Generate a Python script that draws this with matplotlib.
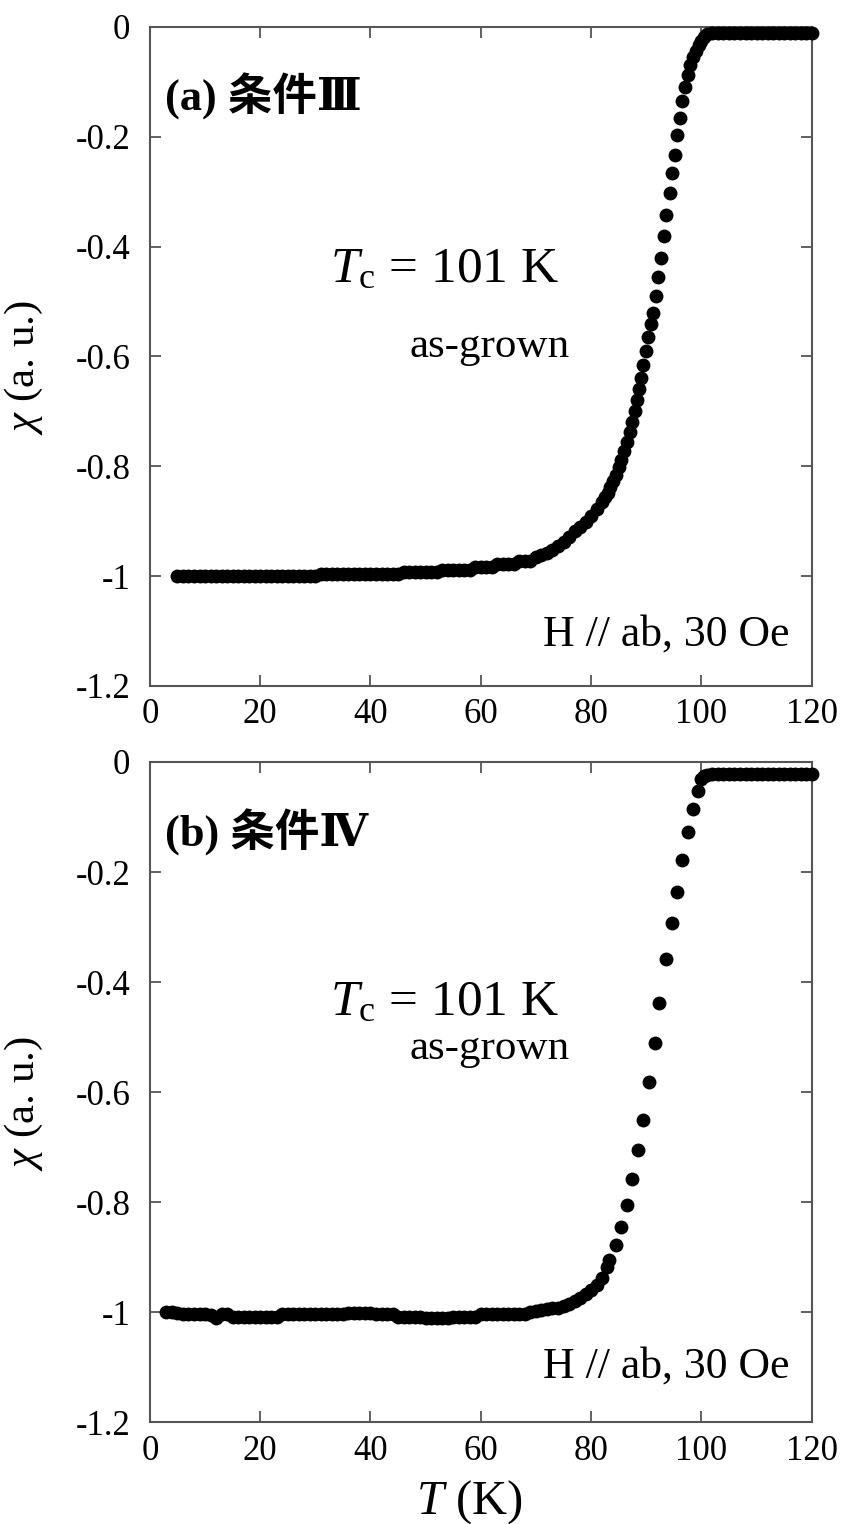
import matplotlib
matplotlib.use("Agg")
import matplotlib.pyplot as plt

plt.rcParams['font.family'] = ['Liberation Serif', 'DejaVu Serif']
plt.rcParams['mathtext.fontset'] = 'custom'
plt.rcParams['mathtext.rm'] = 'Liberation Serif'
plt.rcParams['mathtext.it'] = 'Liberation Serif:italic'
plt.rcParams['mathtext.bf'] = 'Liberation Serif:bold'

# ---------------- data: panel (a) 条件Ⅲ ----------------
T_a = [5, 6, 7, 8, 9, 10, 11, 12, 13, 14, 15, 16, 17, 18, 19, 20, 21, 22, 23, 24,
       25, 26, 27, 28, 29, 30, 31, 32, 33, 34, 35, 36, 37, 38, 39, 40, 41, 42, 43,
       44, 45, 46, 47, 48, 49, 50, 51, 52, 53, 54, 55, 56, 57, 58, 59, 60, 61, 62,
       63, 64, 65, 66, 67, 68, 69, 70, 71, 72, 73, 74, 75, 76, 77, 78, 79, 80, 81,
       82, 82.5, 83, 83.5, 84, 84.5, 85, 85.5, 86, 86.5, 87, 87.5, 88, 88.3, 88.6,
       89, 89.4, 89.9, 90.3, 90.8, 91.2, 91.7, 92.2, 92.6, 93.2, 93.5, 94.3, 94.6,
       95.2, 95.5, 96.2, 96.5, 97.0, 97.5, 98.0, 98.5, 99.0, 99.5, 100, 100.5, 101,
       102, 103, 104, 105, 106, 107, 108, 109, 110, 111, 112, 113, 114, 115, 116,
       117, 118, 119, 120]
chi_a = [-1.000, -1.000, -1.000, -1.000, -1.000, -1.000, -1.000, -1.000, -1.000,
         -1.000, -1.000, -1.000, -1.000, -1.000, -1.000, -1.000, -1.000, -1.000,
         -1.000, -1.000, -1.000, -1.000, -1.000, -1.000, -1.000, -1.000,
         -0.996, -0.996, -0.996, -0.996, -0.996, -0.996, -0.996, -0.996, -0.996,
         -0.996, -0.996, -0.996, -0.996, -0.996, -0.996,
         -0.992, -0.992, -0.992, -0.992, -0.992, -0.992, -0.992,
         -0.988, -0.988, -0.988, -0.988, -0.988, -0.988,
         -0.983, -0.983, -0.983, -0.983,
         -0.978, -0.978, -0.978, -0.978,
         -0.972, -0.972, -0.972,
         -0.966, -0.962, -0.957, -0.952, -0.946,
         -0.938, -0.928, -0.918, -0.910, -0.902, -0.890, -0.878, -0.865, -0.856,
         -0.848, -0.838, -0.826, -0.815, -0.802, -0.788, -0.772, -0.756, -0.738,
         -0.720, -0.700, -0.680, -0.660, -0.640, -0.615, -0.590, -0.565, -0.540,
         -0.520, -0.490, -0.456, -0.420, -0.381, -0.342, -0.303, -0.266, -0.233,
         -0.197, -0.166, -0.135, -0.109, -0.087, -0.070, -0.055, -0.043, -0.033,
         -0.025, -0.018, -0.013,
         -0.011, -0.011, -0.011, -0.011, -0.011, -0.011, -0.011, -0.011, -0.011,
         -0.011, -0.011, -0.011, -0.011, -0.011, -0.011, -0.011, -0.011, -0.011,
         -0.011]

# ---------------- data: panel (b) 条件Ⅳ ----------------
T_b = [3, 4, 5, 6, 7, 8, 9, 10, 11, 12, 13, 14, 15, 16, 17, 18, 19, 20, 21, 22, 23,
       24, 25, 26, 27, 28, 29, 30, 31, 32, 33, 34, 35, 36, 37, 38, 39, 40, 41, 42,
       43, 44, 45, 46, 47, 48, 49, 50, 51, 52, 53, 54, 55, 56, 57, 58, 59, 60, 61,
       62, 63, 64, 65, 66, 67, 68, 69, 70, 71, 72, 73, 74, 75, 76, 77, 78, 79, 80,
       81, 82, 82.8, 83.3, 84.6, 85.5, 86.5, 87.5, 88.5, 89.5, 90.5, 91.5, 92.4,
       93.5, 94.6, 95.5, 96.5, 97.5, 98.5, 99.4, 100.0, 100.5, 101, 102, 103, 104,
       105, 106, 107, 108, 109, 110, 111, 112, 113, 114, 115, 116, 117, 118, 119, 120]
chi_b = [-1.000, -1.000, -1.001, -1.003, -1.003, -1.003, -1.003, -1.003, -1.005,
         -1.010, -1.003, -1.003,
         -1.009, -1.009, -1.009, -1.009, -1.009, -1.009, -1.009, -1.009, -1.009,
         -1.003, -1.003, -1.003, -1.003, -1.003, -1.003, -1.003, -1.003, -1.003,
         -1.003, -1.003, -1.003,
         -1.001, -1.001, -1.001, -1.001, -1.001,
         -1.003, -1.003, -1.003, -1.003,
         -1.009, -1.009, -1.009, -1.009, -1.009,
         -1.011, -1.011, -1.011, -1.011, -1.011,
         -1.009, -1.009, -1.009, -1.009, -1.009,
         -1.003, -1.003, -1.003, -1.003, -1.003, -1.003, -1.003, -1.003, -1.003,
         -1.000, -0.998, -0.996, -0.994, -0.993, -0.992, -0.989, -0.986, -0.980,
         -0.975, -0.968, -0.960, -0.950, -0.938, -0.919, -0.906, -0.878, -0.845,
         -0.805, -0.758, -0.705, -0.651, -0.582, -0.511, -0.438, -0.358, -0.292,
         -0.236, -0.178, -0.128, -0.086, -0.052, -0.030, -0.025, -0.023,
         -0.022, -0.022, -0.022, -0.022, -0.022, -0.022, -0.022, -0.022, -0.022,
         -0.022, -0.022, -0.022, -0.022, -0.022, -0.022, -0.022, -0.022, -0.022,
         -0.022]

x_ticks = [0, 20, 40, 60, 80, 100, 120]
y_ticks = [0, -0.2, -0.4, -0.6, -0.8, -1.0, -1.2]
y_tick_labels = ['0', '-0.2', '-0.4', '-0.6', '-0.8', '-1', '-1.2']

panel_labels = ['(a) 条件Ⅲ', '(b) 条件Ⅳ']
tc_text = r'$T_\mathrm{c}$ = 101 K'
sample_text = 'as-grown'
field_text = 'H // ab, 30 Oe'

fig = plt.figure(figsize=(8.42, 15.24), dpi=100)
ax_a = fig.add_axes([0.178, 0.5499, 0.786, 0.4324])
ax_b = fig.add_axes([0.178, 0.0669, 0.786, 0.4331])

spine_color = '#555555'
label_family = ['Liberation Serif', 'DejaVu Serif', 'Noto Sans CJK JP', 'DejaVu Sans']

configs = [
    (ax_a, T_a, chi_a, panel_labels[0], -0.443, -0.582, -1.107),
    (ax_b, T_b, chi_b, panel_labels[1], -0.438, -0.522, -1.100),
]

for ax, T, chi, plabel, y_tc, y_as, y_h in configs:
    ax.plot(T, chi, 'o', color='black', markersize=10, markeredgewidth=0,
            clip_on=False, zorder=3)
    ax.set_xlim(0, 120)
    ax.set_ylim(-1.2, 0)
    ax.set_xticks(x_ticks)
    ax.set_xticklabels([str(t) for t in x_ticks])
    ax.set_yticks(y_ticks)
    ax.set_yticklabels(y_tick_labels)
    ax.tick_params(direction='in', top=True, right=True, length=8, width=1.3,
                   color=spine_color, labelsize=25)
    ax.tick_params(axis='x', pad=9)
    ax.tick_params(axis='y', pad=14)
    for s in ax.spines.values():
        s.set_color(spine_color)
        s.set_linewidth(1.5)
    ax.set_ylabel(r'$\chi$ (a. u.)', fontsize=31)
    ax.yaxis.set_label_coords(-0.159, 0.483)
    ax.text(0.023, 0.894, plabel, transform=ax.transAxes, fontsize=32,
            fontweight='bold', family=label_family, ha='left', va='center')
    ax.text(32.6, y_tc, tc_text, fontsize=37, ha='left', va='center')
    ax.text(47.1, y_as, sample_text, fontsize=31, ha='left', va='center')
    ax.text(116, y_h, field_text, fontsize=31.5, ha='right', va='center')

ax_b.set_xlabel(r'$T$ (K)', fontsize=35)
ax_b.xaxis.set_label_coords(0.482, -0.085)

fig.savefig('out.png', dpi=100)
